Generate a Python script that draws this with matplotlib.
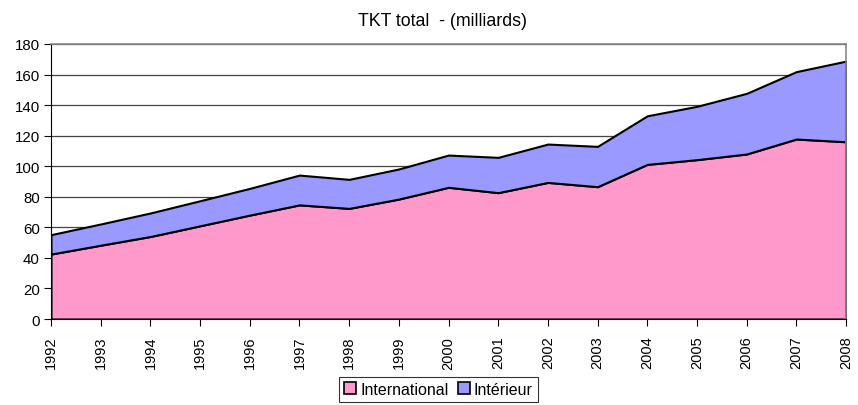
import matplotlib
matplotlib.use("Agg")
import matplotlib.pyplot as plt
import numpy as np

years = list(range(1992, 2009))
international = [42.5, 48.3, 54.0, 61.0, 68.0, 74.7, 72.4, 78.5, 86.2, 82.7, 89.4, 86.6, 101.2, 104.3, 108.0, 117.8, 116.0]
total = [55.2, 62.2, 69.4, 77.4, 85.5, 94.2, 91.4, 98.2, 107.3, 105.8, 114.5, 113.0, 133.0, 139.2, 147.7, 161.9, 168.8]
interieur = [t - i for t, i in zip(total, international)]
series_labels = ["International", "Intérieur"]
title = "TKT total  - (milliards)"

plt.rcParams['font.family'] = ['Liberation Sans', 'DejaVu Sans']

fig = plt.figure(figsize=(8.58, 4.06), dpi=100)
ax = fig.add_axes([51/858, 1 - 320/406, (846-51)/858, (320-45)/406])

x = np.array(years)
ax.stackplot(x, international, interieur, colors=["#FF99CC", "#9999FF"],
             labels=series_labels, edgecolor="black", linewidth=1.5, zorder=2)

ax.set_xlim(1992, 2008)
ax.set_ylim(0, 180)
ax.set_yticks(range(0, 181, 20))
ax.set_xticks(years)
ax.set_xticklabels([str(y) for y in years], rotation=90, fontsize=10.5)
ax.tick_params(axis='y', labelsize=10.8, length=5, width=0.8, pad=3)
ax.tick_params(axis='x', length=5, width=0.8, pad=7)
ax.yaxis.grid(True, color="#444444", linewidth=0.9, zorder=1)
ax.set_axisbelow(True)
for s in ["top", "right"]:
    ax.spines[s].set_color("#888888")
    ax.spines[s].set_linewidth(1.2)
ax.spines["left"].set_color("black")
ax.spines["bottom"].set_color("black")

fig.text(442/858, 1 - 22/406, title, ha="center", va="center", fontsize=12.8)

leg = fig.legend(loc="upper center", bbox_to_anchor=(438.5/858, 1 - 378/406), ncol=2,
                 fontsize=11.5, frameon=True, fancybox=False, edgecolor="black",
                 handlelength=0.75, handleheight=0.75, handletextpad=0.25,
                 columnspacing=0.6, borderpad=0.3, borderaxespad=0)
leg.get_frame().set_linewidth(0.8)
for h in leg.legend_handles:
    h.set_edgecolor("black")
    h.set_linewidth(1.2)

fig.savefig("out.png", dpi=100)
